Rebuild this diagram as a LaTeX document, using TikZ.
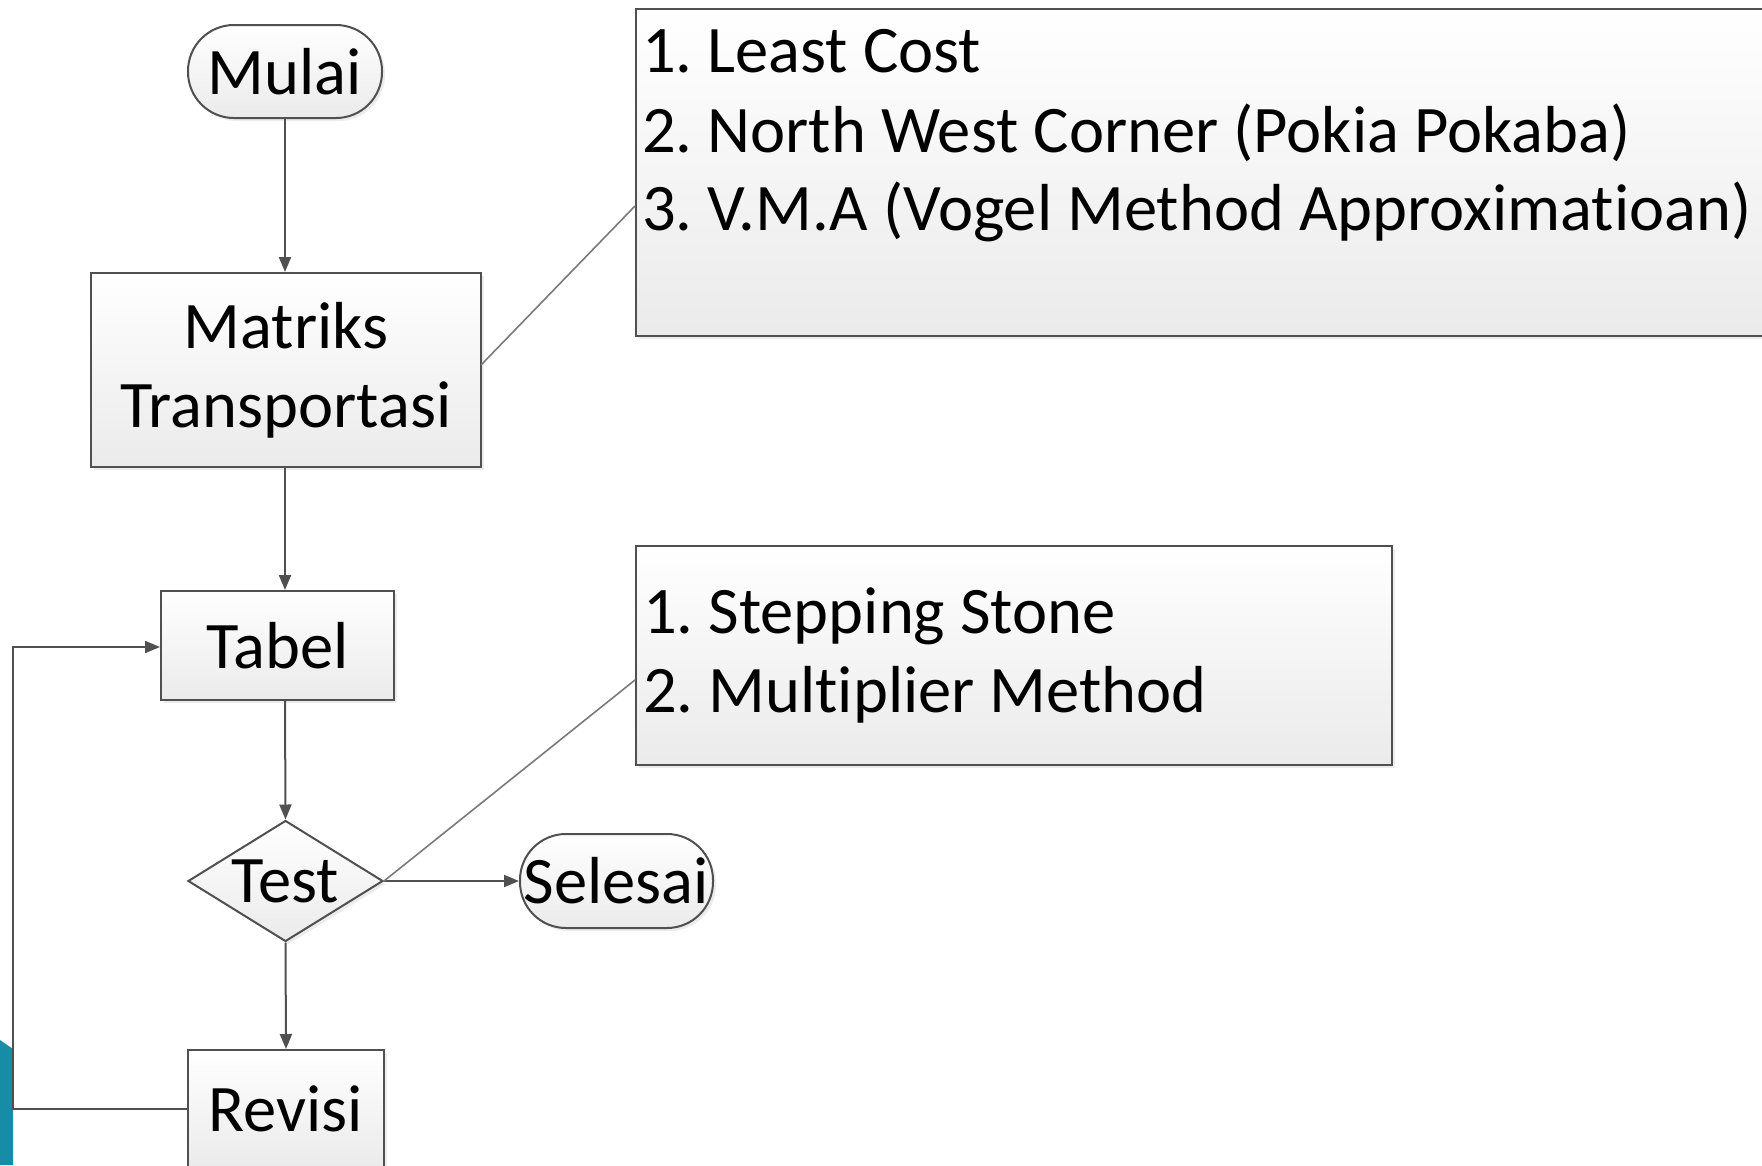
\documentclass[tikz,border=0pt]{standalone}
\usepackage{fontspec}
\setmainfont{Carlito}[Ligatures={NoCommon}]
\usetikzlibrary{arrows.meta,shapes.geometric,shadows}
\definecolor{edge}{HTML}{505050}
\definecolor{linkc}{HTML}{7A7A7A}
\definecolor{teal}{RGB}{22,140,166}
\frenchspacing
\tikzset{
  shapebase/.style={draw=edge, line width=2pt, top color=white, bottom color=black!8,
    drop shadow={shadow xshift=3pt, shadow yshift=-3pt, fill=black!12, opacity=0.6},
    inner sep=0pt, font=\fontsize{66.5}{79}\selectfont, text=black},
  terminal/.style={shapebase, rectangle, rounded corners=46pt},
  process/.style={shapebase, rectangle, align=center},
  decision/.style={shapebase, diamond, aspect=1.61},
  notebox/.style={shapebase, rectangle},
  notetext/.style={inner sep=0pt, font=\fontsize{66.5}{79}\selectfont, text=black},
  flow/.style={draw=edge, line width=2pt, -{Triangle[length=15pt,width=12pt]}},
  link/.style={draw=linkc, line width=1.6pt},
}
\begin{document}
\begin{tikzpicture}[x=1pt,y=-1pt]
\useasboundingbox (0,0) rectangle (1762,1165);
\fill[white] (0,0) rectangle (1762,1165);
% blue corner decoration
\fill[teal] (0,1040) -- (13,1049) -- (13,1165) -- (0,1165) -- cycle;

% nodes
\node[terminal, minimum width=194pt, minimum height=93pt] (mulai) at (285,71.5) {Mulai};
\node[process, minimum width=390pt, minimum height=194pt] (matriks) at (286,370) {Matriks\\Transportasi};
\node[process, minimum width=233pt, minimum height=109pt] (tabel) at (277.5,645.5) {Tabel};
\node[decision, minimum width=195pt, minimum height=121pt] (test) at (285.5,881) {Test};
\node[process, minimum width=196pt, minimum height=118pt] (revisi) at (286,1109) {Revisi};
\node[terminal, minimum width=193pt, minimum height=94pt] (selesai) at (616.5,881) {Selesai};

\node[notebox, anchor=north west, minimum width=1135pt, minimum height=327pt] (box1) at (635,8) {};
\node[notetext, anchor=base west] (b1a) at (642,72) {1. Least Cost};
\node[notetext, anchor=base west] (b1b) at (642,152) {2. North West Corner (Pokia Pokaba)};
\node[notetext, anchor=base west] (b1c) at (642,230) {3. V.M.A (Vogel Method Approximatioan)};

\node[notebox, anchor=north west, minimum width=756pt, minimum height=219pt] (box2) at (635,545) {};
\node[notetext, anchor=base west] (b2a) at (643,633) {1. Stepping Stone};
\node[notetext, anchor=base west] (b2b) at (643,712) {2. Multiplier Method};

% connectors
\coordinate (m1) at (481,365);
\coordinate (n1) at (635,206);
\coordinate (n2) at (635,680);
\coordinate (fbL) at (13,1109);
\coordinate (fbT) at (13,647);

\draw[flow] (mulai.south) -- (mulai.south |- matriks.north);
\draw[flow] (mulai.south |- matriks.south) -- (mulai.south |- tabel.north);
\draw[flow] (mulai.south |- tabel.south) -- (test.north);
\draw[flow] (test.south) -- (revisi.north);
\draw[flow] (test.east) -- (selesai.west);
\draw[flow] (revisi.west) -- (fbL) -- (fbT) -- (tabel.west |- fbT);
\draw[link] (m1) -- (n1);
\draw[link] (test.east) -- (n2);
\end{tikzpicture}
\end{document}
